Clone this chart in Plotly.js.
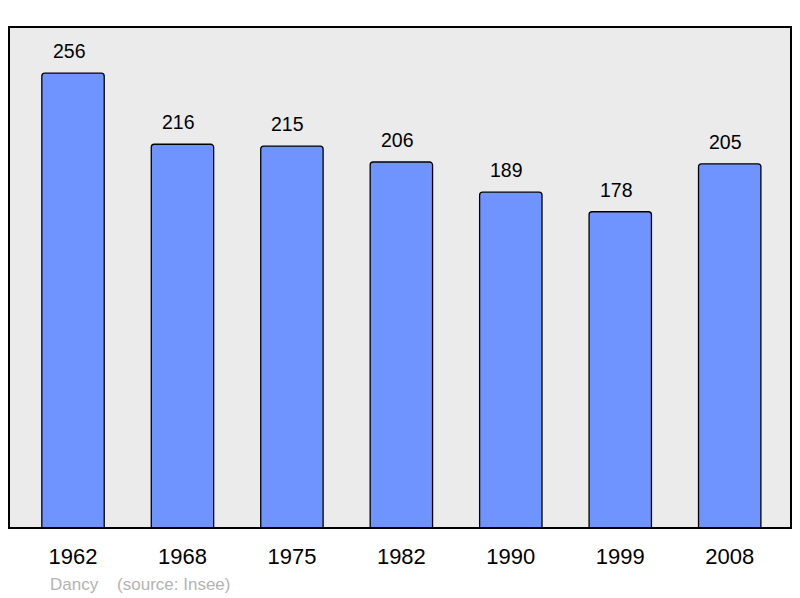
<!DOCTYPE html>
<html>
<head>
<meta charset="utf-8">
<script src="https://cdn.plot.ly/plotly-3.0.1.min.js"></script>
<style>
  html, body { margin: 0; padding: 0; background: #fff; }
  #chart { width: 800px; height: 598px; }
</style>
</head>
<body>
<div id="chart"></div>
<script>
var years = ['1962', '1968', '1975', '1982', '1990', '1999', '2008'];
var population = [256, 216, 215, 206, 189, 178, 205];
var commune = 'Dancy';
var source = '(source: Insee)';

var bars = {
  type: 'bar',
  x: years,
  y: population,
  width: 0.57,
  marker: {
    color: '#7094ff',
    cornerradius: 3,
    line: {color: '#000000', width: 1.3}
  },
  hoverinfo: 'x+y'
};

// value labels above each bar (x given as category index)
var labels = years.map(function (yr, i) {
  return {
    xref: 'x', yref: 'y',
    x: i,
    y: population[i],
    text: String(population[i]),
    showarrow: false,
    yanchor: 'bottom',
    yshift: 9,
    xshift: -4,
    font: {family: 'Liberation Sans, Arial, sans-serif', size: 19.5, color: '#000'}
  };
});

labels.push({
  xref: 'paper', yref: 'paper',
  x: 0.05, y: -0.112,
  xanchor: 'left', yanchor: 'middle',
  text: commune + '&nbsp;&nbsp;&nbsp;&nbsp;' + source,
  showarrow: false,
  font: {family: 'Liberation Sans, Arial, sans-serif', size: 17, color: '#b3b3b3'}
});

var layout = {
  width: 800,
  height: 598,
  margin: {l: 9, r: 9, t: 27, b: 70, pad: 0},
  paper_bgcolor: '#ffffff',
  plot_bgcolor: '#ebebeb',
  showlegend: false,
  font: {family: 'Liberation Sans, Arial, sans-serif', color: '#000'},
  xaxis: {
    type: 'category',
    range: [-0.585, 6.56],
    showgrid: false,
    zeroline: false,
    showline: false,
    ticks: '',
    ticklabelstandoff: 13,
    tickfont: {size: 22, color: '#000'},
    fixedrange: true
  },
  yaxis: {
    range: [0, 282],
    showgrid: false,
    zeroline: false,
    showline: false,
    showticklabels: false,
    ticks: '',
    fixedrange: true
  },
  shapes: [{
    type: 'rect',
    xref: 'paper', yref: 'paper',
    x0: 0, x1: 1, y0: 0, y1: 1,
    line: {color: '#000', width: 2},
    layer: 'above'
  }],
  annotations: labels
};

Plotly.newPlot('chart', [bars], layout, {displayModeBar: false, staticPlot: true});
</script>
</body>
</html>
